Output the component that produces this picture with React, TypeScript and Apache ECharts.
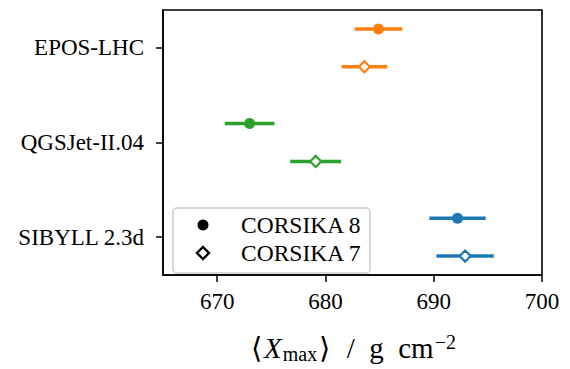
import React, { useEffect, useRef } from "react";
import * as echarts from "echarts";

// Hadronic interaction models, bottom to top on the y axis
const models = ["SIBYLL 2.3d", "QGSJet-II.04", "EPOS-LHC"];
const modelColors = ["#1f77b4", "#2ca02c", "#ff7f0e"];

// Mean depth of shower maximum <Xmax> in g/cm^2 and its uncertainty
const corsika8Mean = [692.2, 673.0, 684.9];
const corsika8Err = [2.6, 2.3, 2.2];
const corsika7Mean = [692.9, 679.1, 683.6];
const corsika7Err = [2.65, 2.35, 2.1];

const xTicks = [670, 680, 690, 700];
const legendNames = ["CORSIKA 8", "CORSIKA 7"];

const FONT = "Liberation Serif";

export default function App() {
  const ref = useRef<HTMLDivElement>(null);

  useEffect(() => {
    if (!ref.current) return;
    const chart = echarts.init(ref.current, undefined, { renderer: "svg" });

    const rows = [
      { mean: corsika8Mean, err: corsika8Err, shift: 0.2, symbol: "circle", filled: true },
      { mean: corsika7Mean, err: corsika7Err, shift: -0.2, symbol: "diamond", filled: false },
    ];

    const errorSeries = rows.map((r, k) => ({
      type: "custom",
      name: legendNames[k] + " err",
      z: 2,
      data: models.map((_, i) => ({
        value: [r.mean[i], i + r.shift, r.err[i]],
        itemStyle: { color: modelColors[i] },
      })),
      renderItem: (params: any, api: any) => {
        const x = api.value(0);
        const y = api.value(1);
        const e = api.value(2);
        const p0 = api.coord([x - e, y]);
        const p1 = api.coord([x + e, y]);
        return {
          type: "line",
          shape: { x1: p0[0], y1: p0[1], x2: p1[0], y2: p1[1] },
          style: { stroke: api.visual("color"), lineWidth: 3.5 },
        };
      },
    }));

    const markerSeries = rows.map((r, k) => ({
      type: "scatter",
      name: legendNames[k],
      z: 3,
      symbol: r.symbol,
      symbolSize: 11,
      data: models.map((_, i) => ({
        value: [r.mean[i], i + r.shift],
        itemStyle: r.filled
          ? { color: modelColors[i], opacity: 1 }
          : { color: "#ffffff", borderColor: modelColors[i], borderWidth: 2.2, opacity: 1 },
      })),
    }));

    const titleRich = {
      a: { fontSize: 29, fontFamily: FONT, color: "#000", lineHeight: 32 },
      br: { fontSize: 29, fontFamily: FONT, color: "#000", lineHeight: 32, padding: [0, 2, 0, 2] },
      x: { fontSize: 29, fontFamily: FONT, fontStyle: "italic", color: "#000", lineHeight: 32, padding: [0, 1, 0, 0] },
      sub: { fontSize: 20, fontFamily: FONT, color: "#000", lineHeight: 20, verticalAlign: "bottom" },
      sup: { fontSize: 20, fontFamily: FONT, color: "#000", lineHeight: 14, verticalAlign: "top", padding: [0, 0, 0, 1] },
    };

    chart.setOption({
      animation: false,
      textStyle: { fontFamily: FONT },
      grid: {
        left: 163,
        right: 28,
        top: 10,
        bottom: 86,
        show: true,
        borderColor: "#000",
        borderWidth: 1.6,
        backgroundColor: "transparent",
      },
      xAxis: {
        type: "value",
        min: 665,
        max: 700,
        axisLine: { show: true, onZero: false, lineStyle: { color: "#000", width: 1.6 } },
        axisTick: {
          show: true,
          length: 7,
          lineStyle: { color: "#000", width: 1.5 },
          customValues: xTicks,
        },
        axisLabel: {
          color: "#000",
          fontSize: 23,
          fontFamily: FONT,
          margin: 15,
          customValues: xTicks,
        },
        splitLine: { show: false },
        name: "{br|⟨}{x|X}{sub|max}{br|⟩}{a|  /  g  cm}{sup|−2}",
        nameLocation: "middle",
        nameGap: 57,
        nameTextStyle: {
          color: "#000",
          fontFamily: FONT,
          fontSize: 29,
          rich: titleRich,
        },
      },
      yAxis: {
        type: "value",
        min: -0.4,
        max: 2.4,
        axisLine: { show: true, onZero: false, lineStyle: { color: "#000", width: 1.6 } },
        axisTick: {
          show: true,
          length: 7,
          lineStyle: { color: "#000", width: 1.5 },
          customValues: [0, 1, 2],
        },
        axisLabel: {
          color: "#000",
          fontSize: 23,
          fontFamily: FONT,
          margin: 19,
          customValues: [0, 1, 2],
          formatter: (v: number) => models[Math.round(v)] ?? "",
        },
        splitLine: { show: false },
      },
      graphic: [
        {
          type: "rect",
          shape: { x: 173, y: 208, width: 197, height: 65, r: 4 },
          style: { fill: "rgba(255,255,255,0.8)", stroke: "#cccccc", lineWidth: 1.5 },
          z: 10,
        },
        {
          type: "circle",
          shape: { cx: 203, cy: 225, r: 5.5 },
          style: { fill: "#000" },
          z: 11,
        },
        {
          type: "polygon",
          shape: { points: [[203, 247], [209, 253], [203, 259], [197, 253]] },
          style: { fill: "#fff", stroke: "#000", lineWidth: 2.4 },
          z: 11,
        },
        {
          type: "text",
          x: 241,
          y: 225,
          style: { text: legendNames[0], fontSize: 23.5, fontFamily: FONT, fill: "#000", verticalAlign: "middle" },
          z: 11,
        },
        {
          type: "text",
          x: 241,
          y: 253,
          style: { text: legendNames[1], fontSize: 23.5, fontFamily: FONT, fill: "#000", verticalAlign: "middle" },
          z: 11,
        },
      ],
      series: [...errorSeries, ...markerSeries],
    });

    return () => chart.dispose();
  }, []);

  return <div ref={ref} style={{ width: 570, height: 369, position: "absolute", left: 0, top: 0 }} />;
}
